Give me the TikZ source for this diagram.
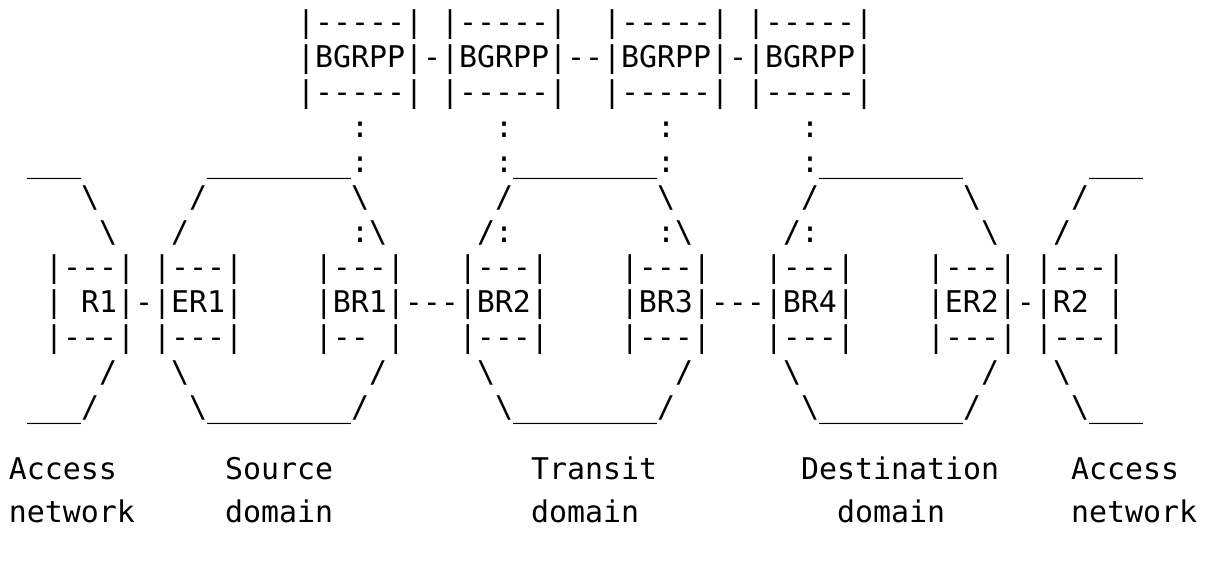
\documentclass[tikz,border=0pt]{standalone}
\usepackage{fontspec}
\setmonofont{DejaVu Sans Mono}
% repeat a token n times, used for runs of blanks, underscores
\ExplSyntaxOn
\NewDocumentCommand\rep{mm}{\prg_replicate:nn{#1}{#2}}
\ExplSyntaxOff
\newcommand\bs{\textbackslash}
\begin{document}
\begin{tikzpicture}[x=1pt,y=1pt,
  row/.style={anchor=base west, inner sep=0pt, outer sep=0pt,
    font=\ttfamily\fontsize{29.9}{35}\selectfont}]
\fill[white] (0,0) rectangle (1210,-566);
\useasboundingbox (0,0) rectangle (1210,-566);
% BGRPP peers
\node[row] (r1) at (9,-32) {\rep{16}{~}|-----|~|-----|~~|-----|~|-----|};
\node[row] (r2) at (9,-67) {\rep{16}{~}|BGRPP|-|BGRPP|--|BGRPP|-|BGRPP|};
\node[row] (r3) at (9,-102) {\rep{16}{~}|-----|~|-----|~~|-----|~|-----|};
\node[row] (r4) at (9,-137) {\rep{19}{~}:\rep{7}{~}:\rep{8}{~}:\rep{7}{~}:};
% domain outlines, upper half
\node[row] (r5) at (9,-172) {~\rep{3}{\_}\rep{7}{~}\rep{8}{\_}:\rep{7}{~}:\rep{8}{\_}:\rep{7}{~}:\rep{8}{\_}\rep{7}{~}\rep{3}{\_}};
\node[row] (r6) at (9,-207) {\rep{4}{~}\bs\rep{5}{~}/\rep{8}{~}\bs\rep{7}{~}/\rep{8}{~}\bs\rep{7}{~}/\rep{8}{~}\bs\rep{5}{~}/};
\node[row] (r7) at (9,-242) {\rep{5}{~}\bs\rep{3}{~}/\rep{9}{~}:\bs\rep{5}{~}/:\rep{8}{~}:\bs\rep{5}{~}/:\rep{9}{~}\bs\rep{3}{~}/};
% routers
\node[row] (r8) at (9,-277) {~~|---|~|---|\rep{4}{~}|---|\rep{3}{~}|---|\rep{4}{~}|---|\rep{3}{~}|---|\rep{4}{~}|---|~|---|};
\node[row] (r9) at (9,-312) {~~|~R1|-|ER1|\rep{4}{~}|BR1|---|BR2|\rep{4}{~}|BR3|---|BR4|\rep{4}{~}|ER2|-|R2~|};
\node[row] (r10) at (9,-347) {~~|---|~|---|\rep{4}{~}|--~|\rep{3}{~}|---|\rep{4}{~}|---|\rep{3}{~}|---|\rep{4}{~}|---|~|---|};
% domain outlines, lower half
\node[row] (r11) at (9,-382) {\rep{5}{~}/\rep{3}{~}\bs\rep{10}{~}/\rep{5}{~}\bs\rep{10}{~}/\rep{5}{~}\bs\rep{10}{~}/\rep{3}{~}\bs};
\node[row] (r12) at (9,-417) {~\rep{3}{\_}/\rep{5}{~}\bs\rep{8}{\_}/\rep{7}{~}\bs\rep{8}{\_}/\rep{7}{~}\bs\rep{8}{\_}/\rep{5}{~}\bs\rep{3}{\_}};
% domain names
\node[row] (r14) at (9,-479) {Access\rep{6}{~}Source\rep{11}{~}Transit\rep{8}{~}Destination\rep{4}{~}Access};
\node[row] (r15) at (9,-522) {network\rep{5}{~}domain\rep{11}{~}domain\rep{11}{~}domain\rep{7}{~}network};
\end{tikzpicture}
\end{document}
